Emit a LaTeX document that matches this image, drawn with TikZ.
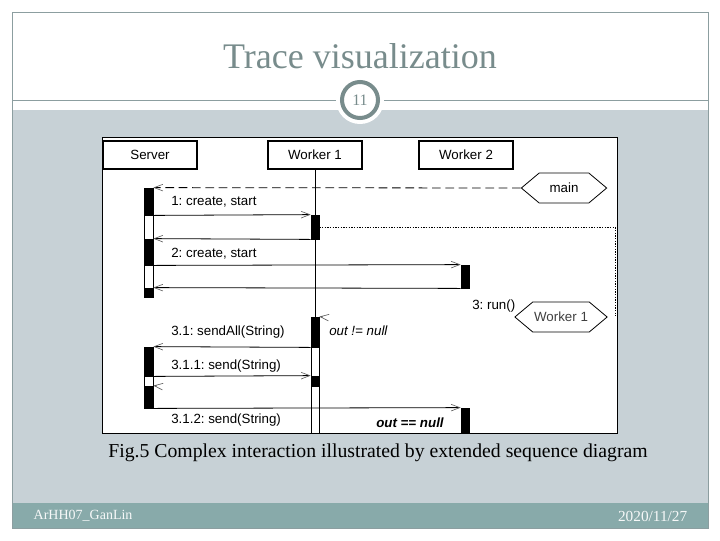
\documentclass[tikz,border=0pt]{standalone}
\usepackage{fontspec}
\setmainfont{Liberation Serif}
\setsansfont{Liberation Sans}
\usetikzlibrary{arrows.meta,fit,shapes.symbols}
\definecolor{slidebg}{RGB}{199,209,214}
\definecolor{slidefoot}{RGB}{136,170,170}
\definecolor{slideline}{RGB}{140,158,160}
\definecolor{titlegray}{RGB}{120,140,140}
\definecolor{tipgray}{RGB}{90,90,90}
\frenchspacing
\begin{document}
\begin{tikzpicture}[x=0.75pt,y=-0.75pt,
  every node/.style={font=\sffamily\fontsize{10}{12}\selectfont},
  objbox/.style={draw, line width=1.5pt, minimum width=70pt, minimum height=21.5pt, inner sep=0pt},
  actbar/.style={draw, line width=0.6pt, inner sep=0pt, fill=black},
  idlebar/.style={draw, line width=0.6pt, inner sep=0pt, fill=white},
  msg/.style={line width=0.6pt, -{Straight Barb[length=6.5pt,width=5pt,line width=0.45pt,color=tipgray]}},
  thread/.style={draw, signal, signal to=west and east, signal pointer angle=80, minimum width=64pt, minimum height=22.5pt, inner sep=1pt, line width=0.6pt},
  lbl/.style={anchor=west, inner sep=0pt}]
\useasboundingbox (0,0) rectangle (720,540);
\fill[white] (0,0) rectangle (720,540);
\fill[slidebg] (12,110) rectangle (708,503);
\fill[slidefoot] (12,503) rectangle (708,528);
\draw[slideline, line width=0.75pt] (12,12) rectangle (708,528);
\draw[slideline, line width=0.75pt] (12,100) -- (708,100);
\fill[white] (360,100) circle (24);
\draw[titlegray, line width=3pt] (360,100) circle (18);
\node[titlegray, font=\rmfamily\fontsize{12}{14}\selectfont] (pageno) at (360,100) {11};
\node[titlegray, font=\rmfamily\fontsize{27}{30}\selectfont] (title) at (360,56) {Trace visualization};

\draw[fill=white, line width=0.75pt] (102,137) rectangle (617,433);
\node[objbox] (server) at (150,155) {Server};
\node[objbox] (wk1) at (315,155) {Worker 1};
\node[objbox] (wk2) at (466,155) {Worker 2};
\coordinate (wk1end) at (315,433);
\draw[line width=0.75pt] (wk1.south) -- (wk1end);

\node[actbar, fit={(144,188) (153,215)}] (s1) {};
\node[idlebar, fit={(144,215) (153,239)}] (s2) {};
\node[actbar, fit={(144,239) (153,265)}] (s3) {};
\node[idlebar, fit={(144,265) (153,288)}] (s4) {};
\node[actbar, fit={(144,288) (153,297)}] (s5) {};
\node[actbar, fit={(144,347) (153,376)}] (s6) {};
\node[idlebar, fit={(144,376) (153,386)}] (s7) {};
\node[actbar, fit={(144,386) (153,408)}] (s8) {};
\node[actbar, fit={(311,215) (319,239)}] (w1) {};
\node[actbar, fit={(311,317) (319,347)}] (w2) {};
\node[idlebar, fit={(311,347) (319,376)}] (w3) {};
\node[actbar, fit={(311,376) (319,386)}] (w4) {};
\node[idlebar, fit={(311,386) (319,433)}] (w5) {};
\node[actbar, fit={(461,265) (469,288)}] (v1) {};
\node[actbar, fit={(461,408) (469,433)}] (v2) {};

\node[thread] (main) at (564,188) {main};
\node[thread, text=darkgray] (thr1) at (561,317) {Worker 1};
\coordinate (dotc) at (615,227);
\coordinate (dotend) at (615,316);
\coordinate (wk1in) at (323,317);
\coordinate (srvin) at (157,386);

\draw[msg, dash pattern=on 6.5pt off 3.5pt] (main.west) -- (s1.north east);
\draw[msg] (s1.south east) -- (w1.north west);
\draw[msg] (w1.south west) -- (s3.north east);
\draw[msg] (s3.south east) -- (v1.north west);
\draw[msg] (v1.south west) -- (s5.north east);
\draw[line width=0.6pt, dash pattern=on 1pt off 1pt] (w1.east) -- (w1.east -| dotc) -- (dotend);
\draw[msg] (wk1in) -- (w2.north east);
\draw[msg] (w2.south west) -- (s6.north east);
\draw[msg] (s6.south east) -- (w4.north west);
\draw[msg] (srvin) -- (s8.north east);
\draw[msg] (s8.south east) -- (v2.north west);

\node[lbl] (m1) at (171,202) {1: create, start};
\node[lbl] (m2) at (171,254) {2: create, start};
\node[lbl] (m3) at (472,306) {3: run()};
\node[lbl, font=\sffamily\fontsize{10}{12}\selectfont\itshape] (cond1) at (329,331) {out != null};
\node[lbl] (m31) at (171,332) {3.1: sendAll(String)};
\node[lbl] (m311) at (171,366) {3.1.1: send(String)};
\node[lbl] (m312) at (171,420) {3.1.2: send(String)};
\node[lbl, font=\sffamily\fontsize{10}{12}\selectfont\bfseries\itshape] (cond2) at (376,423) {out == null};

\node[font=\rmfamily\fontsize{14.8}{16}\selectfont] (caption) at (378,453) {Fig.5 Complex interaction illustrated by extended sequence diagram};
\node[text=white!92!slidefoot, font=\rmfamily\fontsize{10.5}{12}\selectfont, anchor=west] (author) at (29,516) {ArHH07\_GanLin};
\node[text=white!92!slidefoot, font=\rmfamily\fontsize{11.5}{12}\selectfont, anchor=east] (date) at (692,516) {2020/11/27};
\end{tikzpicture}
\end{document}
